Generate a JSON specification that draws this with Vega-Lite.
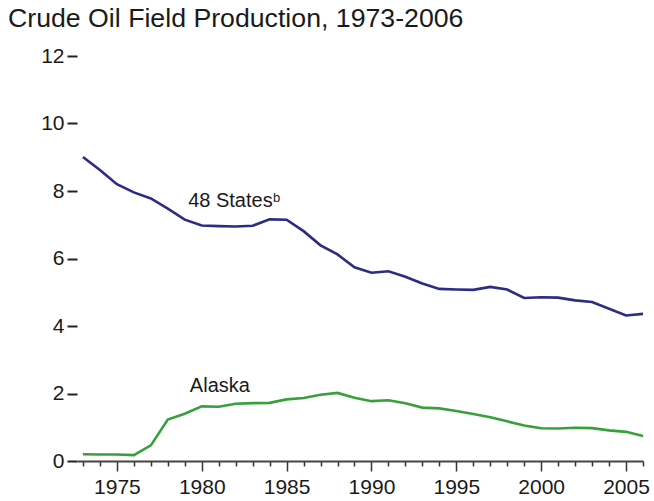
{
  "$schema": "https://vega.github.io/schema/vega-lite/v6.json",
  "autosize": "none",
  "width": 566,
  "height": 405,
  "padding": {"left": 77, "top": 56, "right": 11, "bottom": 40},
  "background": "white",
  "config": {
    "view": {"stroke": null},
    "font": "Liberation Sans",
    "axis": {"labelFont": "Liberation Sans", "labelColor": "#1a1a1a", "grid": false, "title": null}
  },
  "title": {
    "text": "Crude Oil Field Production, 1973-2006",
    "anchor": "start",
    "frame": "group",
    "font": "Liberation Sans",
    "fontSize": 26.7,
    "fontWeight": "normal",
    "color": "#1a1a1a",
    "baseline": "alphabetic",
    "dx": -69,
    "offset": -9
  },
  "datasets": {
    "prod": [
      {"year": 1973, "region": "48 States", "value": 9.01},
      {"year": 1974, "region": "48 States", "value": 8.62},
      {"year": 1975, "region": "48 States", "value": 8.2},
      {"year": 1976, "region": "48 States", "value": 7.96},
      {"year": 1977, "region": "48 States", "value": 7.78},
      {"year": 1978, "region": "48 States", "value": 7.48},
      {"year": 1979, "region": "48 States", "value": 7.15},
      {"year": 1980, "region": "48 States", "value": 6.98},
      {"year": 1981, "region": "48 States", "value": 6.96},
      {"year": 1982, "region": "48 States", "value": 6.95},
      {"year": 1983, "region": "48 States", "value": 6.97},
      {"year": 1984, "region": "48 States", "value": 7.16},
      {"year": 1985, "region": "48 States", "value": 7.15},
      {"year": 1986, "region": "48 States", "value": 6.81},
      {"year": 1987, "region": "48 States", "value": 6.39},
      {"year": 1988, "region": "48 States", "value": 6.12},
      {"year": 1989, "region": "48 States", "value": 5.74},
      {"year": 1990, "region": "48 States", "value": 5.58},
      {"year": 1991, "region": "48 States", "value": 5.62},
      {"year": 1992, "region": "48 States", "value": 5.46},
      {"year": 1993, "region": "48 States", "value": 5.26},
      {"year": 1994, "region": "48 States", "value": 5.10},
      {"year": 1995, "region": "48 States", "value": 5.08},
      {"year": 1996, "region": "48 States", "value": 5.07},
      {"year": 1997, "region": "48 States", "value": 5.16},
      {"year": 1998, "region": "48 States", "value": 5.08},
      {"year": 1999, "region": "48 States", "value": 4.83},
      {"year": 2000, "region": "48 States", "value": 4.85},
      {"year": 2001, "region": "48 States", "value": 4.84},
      {"year": 2002, "region": "48 States", "value": 4.76},
      {"year": 2003, "region": "48 States", "value": 4.71},
      {"year": 2004, "region": "48 States", "value": 4.51},
      {"year": 2005, "region": "48 States", "value": 4.31},
      {"year": 2006, "region": "48 States", "value": 4.36},
      {"year": 1973, "region": "Alaska", "value": 0.198},
      {"year": 1974, "region": "Alaska", "value": 0.193},
      {"year": 1975, "region": "Alaska", "value": 0.191},
      {"year": 1976, "region": "Alaska", "value": 0.173},
      {"year": 1977, "region": "Alaska", "value": 0.464},
      {"year": 1978, "region": "Alaska", "value": 1.229},
      {"year": 1979, "region": "Alaska", "value": 1.401},
      {"year": 1980, "region": "Alaska", "value": 1.617},
      {"year": 1981, "region": "Alaska", "value": 1.609},
      {"year": 1982, "region": "Alaska", "value": 1.696},
      {"year": 1983, "region": "Alaska", "value": 1.714},
      {"year": 1984, "region": "Alaska", "value": 1.722},
      {"year": 1985, "region": "Alaska", "value": 1.825},
      {"year": 1986, "region": "Alaska", "value": 1.867},
      {"year": 1987, "region": "Alaska", "value": 1.962},
      {"year": 1988, "region": "Alaska", "value": 2.017},
      {"year": 1989, "region": "Alaska", "value": 1.874},
      {"year": 1990, "region": "Alaska", "value": 1.773},
      {"year": 1991, "region": "Alaska", "value": 1.798},
      {"year": 1992, "region": "Alaska", "value": 1.714},
      {"year": 1993, "region": "Alaska", "value": 1.582},
      {"year": 1994, "region": "Alaska", "value": 1.559},
      {"year": 1995, "region": "Alaska", "value": 1.484},
      {"year": 1996, "region": "Alaska", "value": 1.393},
      {"year": 1997, "region": "Alaska", "value": 1.296},
      {"year": 1998, "region": "Alaska", "value": 1.175},
      {"year": 1999, "region": "Alaska", "value": 1.050},
      {"year": 2000, "region": "Alaska", "value": 0.970},
      {"year": 2001, "region": "Alaska", "value": 0.963},
      {"year": 2002, "region": "Alaska", "value": 0.984},
      {"year": 2003, "region": "Alaska", "value": 0.974},
      {"year": 2004, "region": "Alaska", "value": 0.908},
      {"year": 2005, "region": "Alaska", "value": 0.864},
      {"year": 2006, "region": "Alaska", "value": 0.741}
    ],
    "labels": [
      {"year": 1979.2, "value": 7.52, "label": "48 States"},
      {"year": 1979.3, "value": 2.05, "label": "Alaska"}
    ],
    "sup": [
      {"year": 1984.2, "value": 7.66, "label": "b"}
    ]
  },
  "layer": [
    {
      "data": {"name": "prod"},
      "mark": {"type": "line", "strokeWidth": 2.6, "interpolate": "linear"},
      "encoding": {
        "x": {
          "field": "year", "type": "quantitative",
          "scale": {"domain": [1972.65, 2006], "nice": false, "zero": false},
          "axis": {
            "values": [1973,1974,1975,1976,1977,1978,1979,1980,1981,1982,1983,1984,1985,1986,1987,1988,1989,1990,1991,1992,1993,1994,1995,1996,1997,1998,1999,2000,2001,2002,2003,2004,2005,2006],
            "tickCount": 100,
            "labelExpr": "datum.value % 5 === 0 ? datum.value : ''",
            "format": "d",
            "labelFontSize": 21,
            "labelPadding": 5,
            "labelFlush": false,
            "labelOverlap": false,
            "domainColor": "#444444",
            "domainWidth": 2,
            "tickColor": "#333333",
            "tickWidth": 1.5,
            "tickSize": {"condition": {"test": "datum.value % 5 === 0", "value": 10}, "value": 5}
          }
        },
        "y": {
          "field": "value", "type": "quantitative",
          "scale": {"domain": [0, 12], "nice": false},
          "axis": {
            "values": [0, 2, 4, 6, 8, 10, 12],
            "domain": false,
            "tickSize": 10,
            "tickWidth": 2,
            "tickColor": "#222222",
            "labelPadding": 3,
            "labelFontSize": 21
          }
        },
        "color": {
          "field": "region", "type": "nominal",
          "scale": {"domain": ["48 States", "Alaska"], "range": ["#2c2c85", "#38a038"]},
          "legend": null
        }
      }
    },
    {
      "data": {"name": "labels"},
      "mark": {"type": "text", "align": "left", "baseline": "alphabetic", "fontSize": 20, "color": "#1a1a1a", "font": "Liberation Sans"},
      "encoding": {
        "x": {"field": "year", "type": "quantitative"},
        "y": {"field": "value", "type": "quantitative"},
        "text": {"field": "label"}
      }
    },
    {
      "data": {"name": "sup"},
      "mark": {"type": "text", "align": "left", "baseline": "alphabetic", "fontSize": 13, "color": "#1a1a1a", "font": "Liberation Sans"},
      "encoding": {
        "x": {"field": "year", "type": "quantitative"},
        "y": {"field": "value", "type": "quantitative"},
        "text": {"field": "label"}
      }
    }
  ]
}
